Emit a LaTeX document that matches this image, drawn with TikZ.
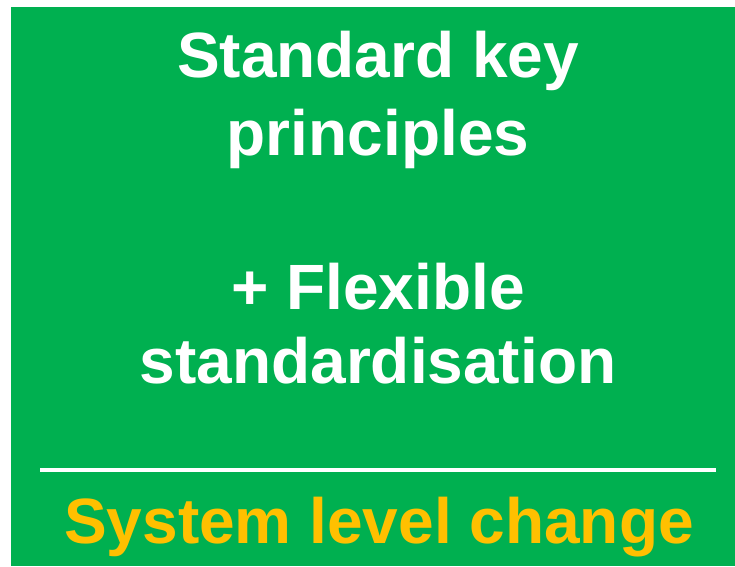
\documentclass[tikz,border=0pt]{standalone}
\usepackage{fontspec}
\setmainfont{Liberation Sans}
\definecolor{bggreen}{RGB}{0,176,80}
\definecolor{gold}{RGB}{255,192,0}
\tikzset{
  txt/.style={anchor=base, inner sep=0pt, font=\fontsize{64pt}{64pt}\selectfont\bfseries, text=white},
  goldtxt/.style={txt, text=gold}
}
\begin{document}
\begin{tikzpicture}[x=1pt,y=1pt]
\useasboundingbox (0,0) rectangle (735,-566);
\fill[bggreen] (11,-7) rectangle (735,-566);
\node[txt] (l1) at (378,-77) {Standard key};
\node[txt] (l2) at (378,-155) {principles};
\node[txt] (l3) at (378,-309) {+ Flexible};
\node[txt] (l4) at (378,-383) {standardisation};
\coordinate (a) at (40,-469.5);
\coordinate (b) at (716,-469.5);
\draw[white, line width=4pt] (a) -- (b);
\node[goldtxt] (l5) at (379,-543) {System level change};
\end{tikzpicture}
\end{document}
